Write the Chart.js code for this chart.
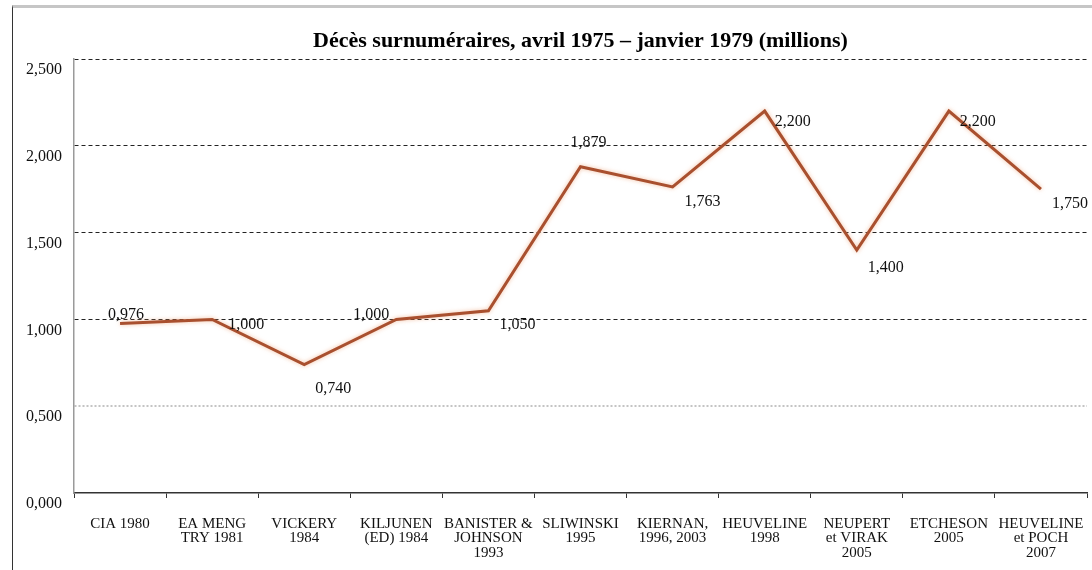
<!DOCTYPE html>
<html lang="fr">
<head>
<meta charset="utf-8">
<title>Décès surnuméraires, avril 1975 – janvier 1979</title>
<script src="https://cdn.jsdelivr.net/npm/chart.js@4.4.1/dist/chart.umd.min.js"></script>
<style>
  html, body { margin: 0; padding: 0; background: #fff; }
  #wrap { position: relative; width: 1092px; height: 570px; overflow: hidden; }
  #cadre {
    position: absolute; left: 12px; top: 5px; width: 1100px; height: 600px;
    border-left: 1px solid #333; border-top: 3px solid #c6c6c6;
  }
  canvas { position: absolute; left: 0; top: 0; }
</style>
</head>
<body>
<div id="wrap">
  <div id="cadre"></div>
  <canvas id="deces" width="1092" height="570"></canvas>
</div>
<script>
/* Estimations des décès surnuméraires sous les Khmers rouges, par source */

const sources = [
  'CIA 1980',
  ['EA MENG', 'TRY 1981'],
  ['VICKERY', '1984'],
  ['KILJUNEN', '(ED) 1984'],
  ['BANISTER &', 'JOHNSON', '1993'],
  ['SLIWINSKI', '1995'],
  ['KIERNAN,', '1996, 2003'],
  ['HEUVELINE', '1998'],
  ['NEUPERT', 'et VIRAK', '2005'],
  ['ETCHESON', '2005'],
  ['HEUVELINE', 'et POCH', '2007']
];

// millions de décès
const deces = [0.976, 1.000, 0.740, 1.000, 1.050, 1.879, 1.763, 2.200, 1.400, 2.200, 1.750];

// graduations de l'axe vertical
const graduations = [0, 0.5, 1, 1.5, 2, 2.5];

// placement des étiquettes de valeur autour de chaque point (dx, dy en px)
const decalages = [
  [6, -9], [34, 5], [29, 24], [-25, -5], [29, 14], [8, -24],
  [30, 15], [28, 11], [29, 18], [29, 11], [29, 15]
];

const SERIF = '"Liberation Serif", "Times New Roman", serif';

function fmt(v) {
  return v.toFixed(3).replace('.', ',');
}

// léger halo orangé autour de la courbe
const halo = {
  id: 'halo',
  beforeDatasetDraw(chart) {
    const ctx = chart.ctx;
    ctx.save();
    ctx.shadowColor = 'rgba(235, 150, 100, 0.6)';
    ctx.shadowBlur = 4;
  },
  afterDatasetDraw(chart) {
    chart.ctx.restore();
  }
};

// valeurs écrites à côté des points
const etiquettes = {
  id: 'etiquettes',
  afterDatasetsDraw(chart) {
    const ctx = chart.ctx;
    const pts = chart.getDatasetMeta(0).data;
    ctx.save();
    ctx.font = '16px ' + SERIF;
    ctx.fillStyle = '#111';
    ctx.textAlign = 'center';
    ctx.textBaseline = 'middle';
    pts.forEach(function (p, i) {
      const d = decalages[i];
      ctx.fillText(fmt(deces[i]), p.x + d[0], p.y + d[1]);
    });
    ctx.restore();
  }
};

new Chart(document.getElementById('deces'), {
  type: 'line',
  data: {
    labels: sources,
    datasets: [{
      data: deces,
      borderColor: '#a9502f',
      borderWidth: 3,
      pointRadius: 0,
      tension: 0,
      fill: false
    }]
  },
  options: {
    responsive: false,
    animation: false,
    layout: { padding: { left: 0, right: 5, top: 0, bottom: 0 } },
    plugins: {
      legend: { display: false },
      tooltip: { enabled: false },
      title: {
        display: true,
        fullSize: false,
        text: 'Décès surnuméraires, avril 1975 – janvier 1979 (millions)',
        color: '#000',
        font: { family: SERIF, size: 22, weight: 'bold', lineHeight: 1.2 },
        padding: { top: 28, bottom: 4.6 }
      }
    },
    scales: {
      x: {
        offset: true,
        grid: {
          offset: true,
          drawOnChartArea: false,
          tickLength: 5,
          color: '#333',
          lineWidth: 1
        },
        border: { color: '#333', width: 1.5 },
        ticks: {
          color: '#111',
          font: { family: SERIF, size: 15, lineHeight: 0.95 },
          padding: 19,
          maxRotation: 0,
          autoSkip: false
        },
        afterFit: function (s) {
          s.height = 77;
          // les libellés extrêmes tiennent dans la marge, pas besoin de rogner la zone
          s.paddingLeft = 0;
          s.paddingRight = 0;
        }
      },
      y: {
        min: 0,
        max: 2.5,
        afterBuildTicks: function (s) {
          s.ticks = graduations.map(function (v) { return { value: v }; });
        },
        grid: {
          drawTicks: false,
          color: function (c) {
            if (!c.tick || c.tick.value === 0) return 'rgba(0,0,0,0)';
            return c.tick.value === 0.5 ? '#c4c4c4' : '#222';
          },
          lineWidth: function (c) {
            return c.tick && c.tick.value === 0.5 ? 2 : 1;
          }
        },
        border: {
          display: true,
          color: '#9a9a9a',
          width: 1.5,
          dash: function (c) {
            if (!c.tick) return [];
            return c.tick.value === 0.5 ? [2, 2] : [4, 3];
          }
        },
        ticks: {
          color: '#111',
          font: { family: SERIF, size: 16 },
          padding: 12,
          labelOffset: 11,
          callback: function (v) { return fmt(v); }
        },
        afterFit: function (s) { s.width = 74; }
      }
    }
  },
  plugins: [halo, etiquettes]
});
</script>
</body>
</html>
